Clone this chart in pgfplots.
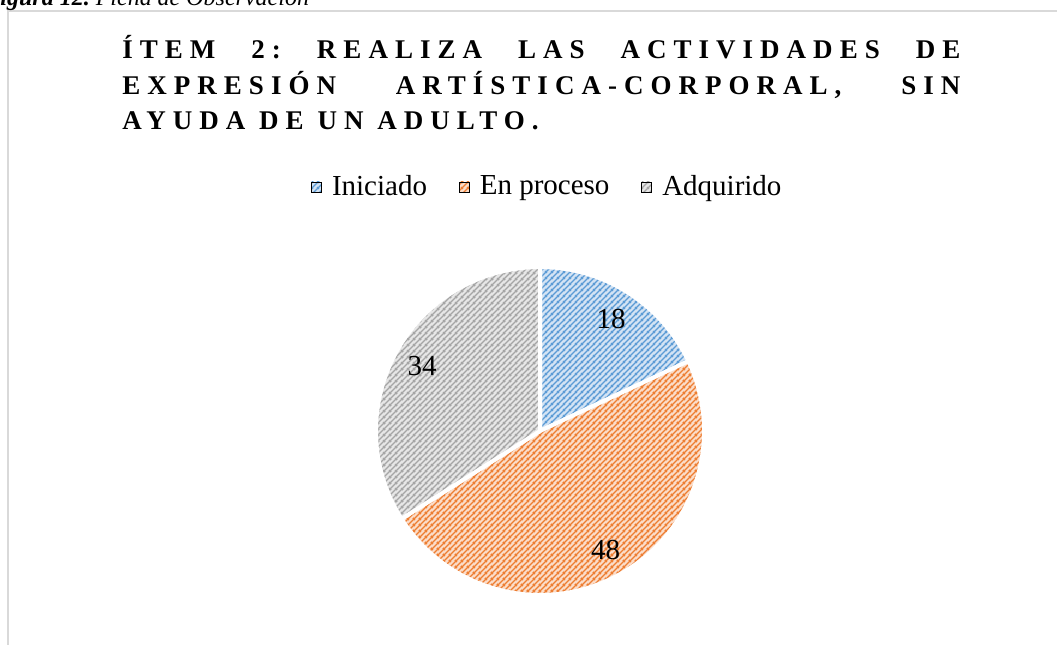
\documentclass[border=0pt]{standalone}
\usepackage{pgfplots}
\pgfplotsset{compat=1.18}
\usepackage{pgfplotstable}
\usetikzlibrary{patterns.meta}
\usepackage{fontspec}
\setmainfont{Liberation Serif}
\newfontfamily\titlefont[LetterSpace=26]{Liberation Serif}
\frenchspacing

\definecolor{cblue}{HTML}{5B9BD5}
\definecolor{corange}{HTML}{ED7D31}
\definecolor{cgray}{HTML}{A5A5A5}
\definecolor{lblue}{HTML}{D3E3F4}
\definecolor{lorange}{HTML}{FBDCC8}
\definecolor{lgray}{HTML}{E6E6E6}

\tikzdeclarepattern{
  name=hatch,
  type=uncolored,
  tile size={(3pt,3pt)},
  bounding box={(0pt,0pt) and (3pt,3pt)},
  code={
    \draw[line width=0.75pt] (-1pt,-1pt) -- (4pt,4pt);
    \draw[line width=0.75pt] (-1pt,2pt) -- (1pt,4pt);
    \draw[line width=0.75pt] (2pt,-1pt) -- (4pt,1pt);
  }
}

\newcommand\fullline[1]{\hbox to 419pt{\frenchspacing #1}}

\pgfplotstableread{
label value
Iniciado 18
Proceso 48
Adquirido 34
}\piedata
\pgfplotstablegetelem{0}{value}\of\piedata\let\vA\pgfplotsretval
\pgfplotstablegetelem{1}{value}\of\piedata\let\vB\pgfplotsretval
\pgfplotstablegetelem{2}{value}\of\piedata\let\vC\pgfplotsretval
\pgfmathsetmacro\angA{90}
\pgfmathsetmacro\angB{\angA-3.6*\vA}
\pgfmathsetmacro\angC{\angB-3.6*\vB}
\pgfmathsetmacro\angD{\angC-3.6*\vC}
\pgfmathsetmacro\midA{(\angA+\angB)/2}
\pgfmathsetmacro\midB{(\angB+\angC)/2}
\pgfmathsetmacro\midC{(\angC+\angD)/2}

\newcommand\slicepath[2]{(axis cs:0,0) -- (axis cs:{cos(#1)},{sin(#1)}) arc[start angle=#1,end angle=#2,radius=82pt] -- cycle}

\begin{document}
\begin{tikzpicture}[x=0.5pt,y=0.5pt]
\useasboundingbox (0,0) rectangle (1057,644);
% frame
\draw[black!15, line width=0.8pt] (8,-5) -- (8,633) -- (1070,633);
% caption (cut at top)
\node[anchor=base west, inner sep=0pt, font=\fontsize{12pt}{14pt}\selectfont] at (-16,638.5)
  {\textbf{\textit{Figura 12.}} \textit{Ficha de Observación}};
% title
\node[anchor=north west, inner sep=0pt, align=left,
      font=\titlefont\bfseries\fontsize{13.5pt}{17.75pt}\selectfont] at (122,609)
  {\fullline{ÍTEM 2: REALIZA LAS ACTIVIDADES DE}\\
   \fullline{EXPRESIÓN ARTÍSTICA-CORPORAL, SIN}\\
   AYUDA DE UN ADULTO.};
\begin{axis}[
  at={(270pt,106.5pt)}, anchor=center,
  width=164pt, height=164pt, scale only axis,
  xmin=-1, xmax=1, ymin=-1, ymax=1,
  hide axis, clip=false,
  legend image code/.code={\path[#1] (0pt,-2.5pt) rectangle (5pt,2.5pt); \path (7.5pt,0pt);},
  legend style={at={(rel axis cs:0.527,1.244)}, anchor=center, draw=none, fill=none,
    legend columns=-1, font=\fontsize{14.5pt}{17pt}\selectfont,
    /tikz/every even column/.append style={column sep=13.5pt},
    nodes={inner sep=2.5pt}},
]
\addlegendimage{preaction={fill=lblue}, pattern=hatch, pattern color=cblue}
\addlegendentry{Iniciado}
\addlegendimage{preaction={fill=lorange}, pattern=hatch, pattern color=corange}
\addlegendentry{En proceso}
\addlegendimage{preaction={fill=lgray}, pattern=hatch, pattern color=cgray}
\addlegendentry{Adquirido}

\path[preaction={fill=lblue}, preaction={pattern=hatch, pattern color=cblue},
      draw=white, line width=2pt, line join=round] \slicepath{\angA}{\angB};
\path[preaction={fill=lorange}, preaction={pattern=hatch, pattern color=corange},
      draw=white, line width=2pt, line join=round] \slicepath{\angB}{\angC};
\path[preaction={fill=lgray}, preaction={pattern=hatch, pattern color=cgray},
      draw=white, line width=2pt, line join=round] \slicepath{\angC}{\angD};

\node[font=\fontsize{14.5pt}{17pt}\selectfont] at (axis cs:{0.81*cos(\midA)},{0.81*sin(\midA)}) {\vA};
\node[font=\fontsize{14.5pt}{17pt}\selectfont] at (axis cs:{0.83*cos(\midB)},{0.83*sin(\midB)}) {\vB};
\node[font=\fontsize{14.5pt}{17pt}\selectfont] at (axis cs:{0.82*cos(\midC)},{0.82*sin(\midC)}) {\vC};
\end{axis}
\end{tikzpicture}
\end{document}
